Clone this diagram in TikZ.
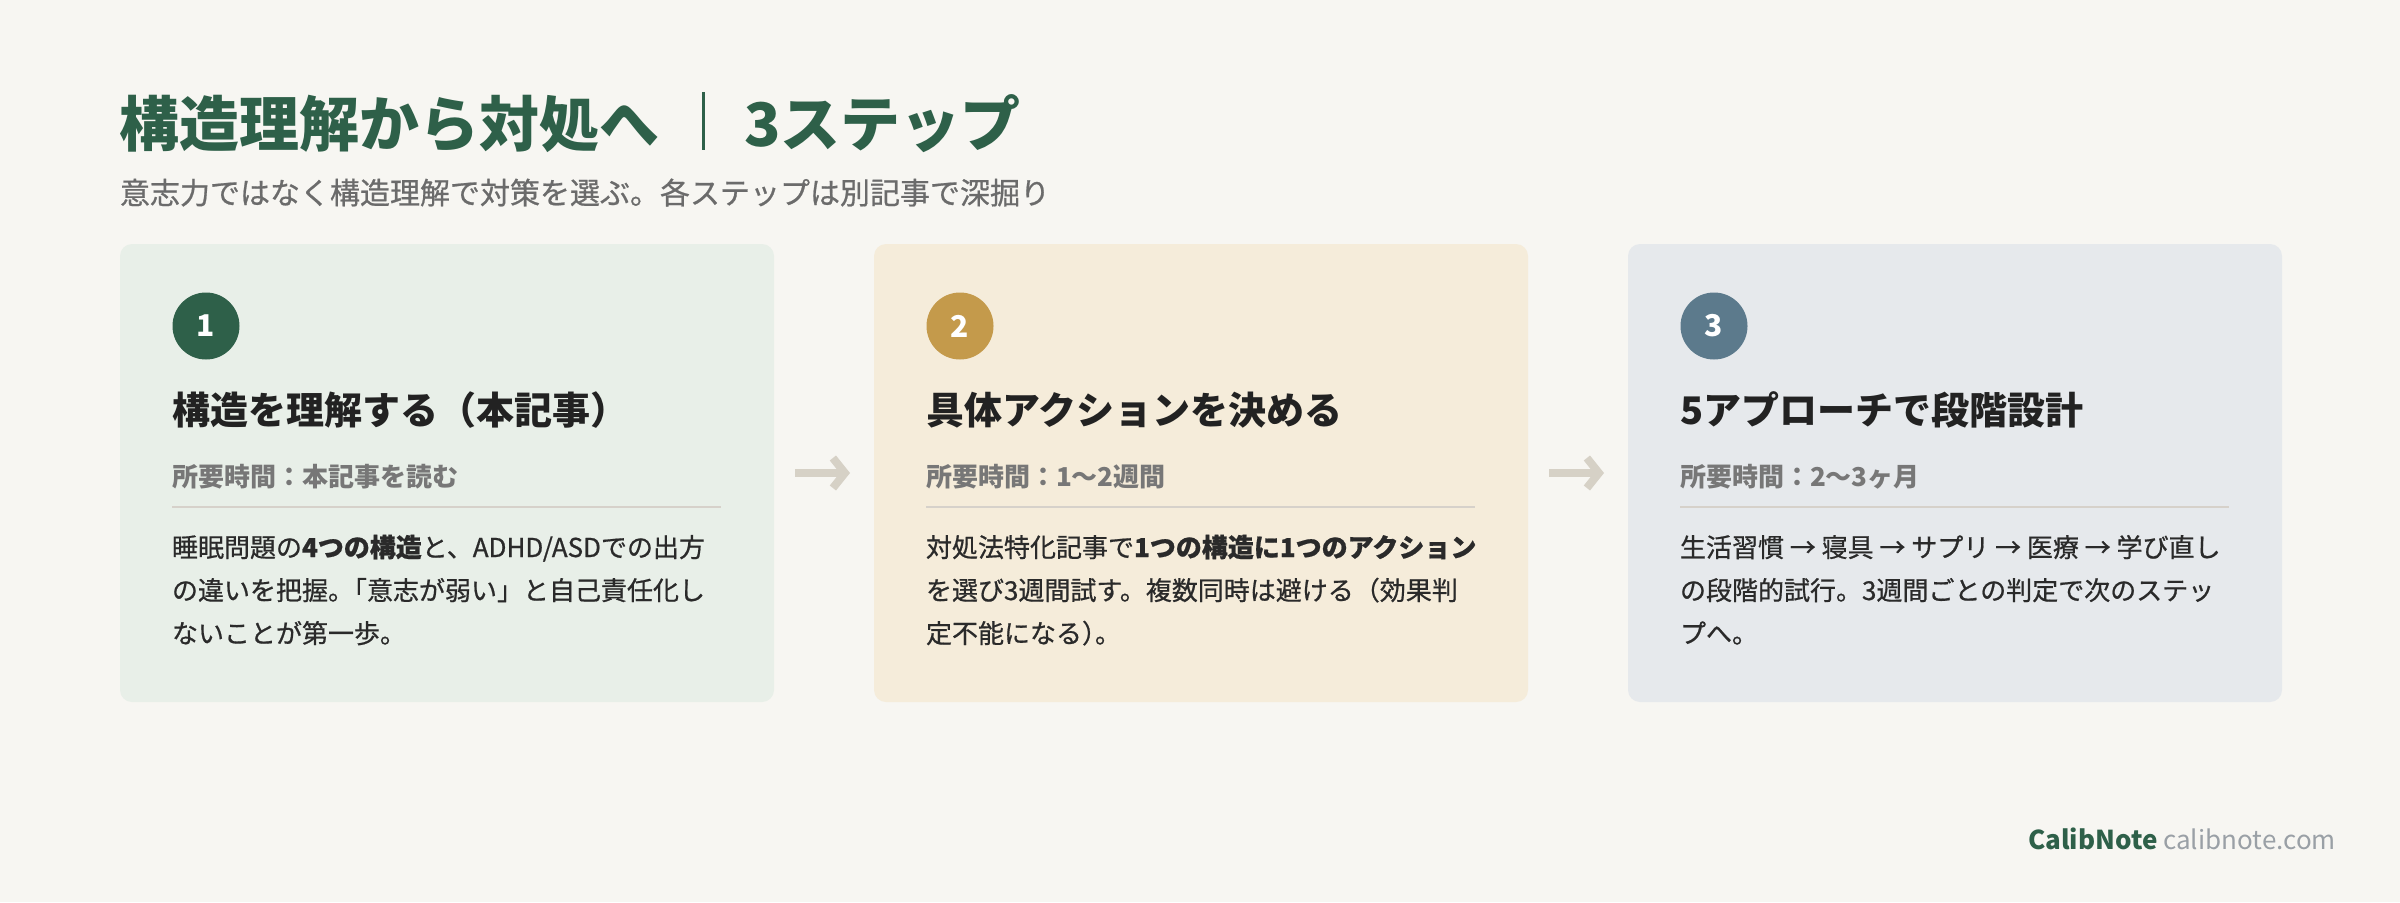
\documentclass[tikz,border=0pt]{standalone}
\usepackage{fontspec}
\setmainfont{Noto Sans CJK JP}
\newfontfamily\medfont{Noto Sans CJK JP}[FakeBold=0.7]
\usetikzlibrary{arrows.meta,calc}
\definecolor{bg}{HTML}{F7F6F2}
\definecolor{cardA}{HTML}{E8EFE8}
\definecolor{cardB}{HTML}{F5ECDA}
\definecolor{cardC}{HTML}{E6E9EC}
\definecolor{brandgreen}{HTML}{2E6049}
\definecolor{gold}{HTML}{C49A4B}
\definecolor{slate}{HTML}{5C7A8C}
\definecolor{headc}{HTML}{222222}
\definecolor{bodyc}{HTML}{2A2A2A}
\definecolor{timec}{HTML}{777777}
\definecolor{subc}{HTML}{6B6B6B}
\definecolor{divc}{HTML}{D6D1CA}
\definecolor{arrowc}{HTML}{D6D1C6}
\definecolor{footc}{HTML}{9AA0A6}
\begin{document}
\begin{tikzpicture}[x=1pt,y=-1pt,
  txt/.style={inner sep=0pt, outer sep=0pt, anchor=base west},
  card/.style={rounded corners=12pt, minimum width=654pt, minimum height=458pt, inner sep=0pt, outer sep=0pt, anchor=north west, draw=none},
  badge/.style={circle, minimum size=67pt, inner sep=0pt, text=white, font=\bfseries\fontsize{30}{30}\selectfont},
  heading/.style={txt, text=headc, font=\bfseries\fontsize{38}{38}\selectfont},
  timetxt/.style={txt, text=timec, font=\bfseries\fontsize{26}{26}\selectfont},
  bodytxt/.style={txt, text=bodyc, align=left, font=\medfont\fontsize{26}{43}\selectfont},
  divider/.style={draw=divc, line width=2pt},
  flow/.style={draw=arrowc, line width=8pt, shorten <=21pt, shorten >=24pt, -{Straight Barb[length=12pt,width=30pt]}}
]
\useasboundingbox (0,0) rectangle (2400,902);
\fill[bg] (0,0) rectangle (2400,902);

% title
\node[txt, text=brandgreen, font=\bfseries\fontsize{60}{60}\selectfont] (title) at (119,146) {構造理解から対処へ};
\draw[brandgreen, line width=3pt] (703,92) -- (703,150);
\node[txt, text=brandgreen, font=\bfseries\fontsize{60}{60}\selectfont] (title2) at (744,146) {3ステップ};
\node[txt, text=subc, font=\medfont\fontsize{30}{30}\selectfont] (sub) at (120,204) {意志力ではなく構造理解で対策を選ぶ。各ステップは別記事で深掘り};

% cards
\node[card, fill=cardA] (c1) at (120,244) {};
\node[card, fill=cardB] (c2) at (874,244) {};
\node[card, fill=cardC] (c3) at (1628,244) {};

% card 1
\node[badge, fill=brandgreen] (n1) at ($(c1.north west)+(86,82)$) {1};
\node[heading] (h1) at ($(c1.north west)+(52,180)$) {構造を理解する（本記事）};
\node[timetxt] (t1) at ($(c1.north west)+(52,242)$) {所要時間：本記事を読む};
\coordinate (d1a) at ($(c1.north west)+(52,263)$);
\coordinate (d1b) at ($(c1.north west)+(601,263)$);
\draw[divider] (d1a) -- (d1b);
\node[bodytxt] (b1) at ($(c1.north west)+(52,399)$) {睡眠問題の{\bfseries 4つの構造}と、ADHD/ASDでの出方\\の違いを把握。\kern-0.5em「意志が弱い」と自己責任化し\\ないことが第一歩。};

% card 2
\node[badge, fill=gold] (n2) at ($(c2.north west)+(86,82)$) {2};
\node[heading] (h2) at ($(c2.north west)+(52,180)$) {具体アクションを決める};
\node[timetxt] (t2) at ($(c2.north west)+(52,242)$) {所要時間：1〜2週間};
\coordinate (d2a) at ($(c2.north west)+(52,263)$);
\coordinate (d2b) at ($(c2.north west)+(601,263)$);
\draw[divider] (d2a) -- (d2b);
\node[bodytxt] (b2) at ($(c2.north west)+(52,399)$) {対処法特化記事で{\bfseries 1つの構造に1つのアクション}\\を選び3週間試す。複数同時は避ける（効果判\\定不能になる）\kern-0.5em。};

% card 3
\node[badge, fill=slate] (n3) at ($(c3.north west)+(86,82)$) {3};
\node[heading] (h3) at ($(c3.north west)+(52,180)$) {5アプローチで段階設計};
\node[timetxt] (t3) at ($(c3.north west)+(52,242)$) {所要時間：2〜3ヶ月};
\coordinate (d3a) at ($(c3.north west)+(52,263)$);
\coordinate (d3b) at ($(c3.north west)+(601,263)$);
\draw[divider] (d3a) -- (d3b);
\node[bodytxt] (b3) at ($(c3.north west)+(52,399)$) {生活習慣 → 寝具 → サプリ → 医療 → 学び直し\\の段階的試行。3週間ごとの判定で次のステッ\\プへ。};

% arrows
\draw[flow] (c1.east) -- (c2.west);
\draw[flow] (c2.east) -- (c3.west);

% footer
\node[inner sep=0pt, anchor=base east, font=\fontsize{26}{26}\selectfont] (foot) at (2336,849) {\textcolor{brandgreen}{\bfseries CalibNote} \textcolor{footc}{calibnote.com}};
\end{tikzpicture}
\end{document}
